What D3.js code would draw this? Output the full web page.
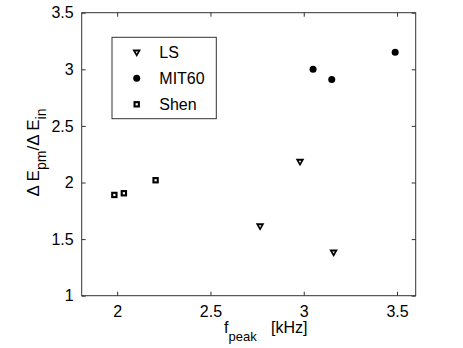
<!DOCTYPE html>
<html><head><meta charset="utf-8">
<script src="https://cdn.jsdelivr.net/npm/d3@7"></script>
<style>body{margin:0;background:#fff}svg{display:block}text{font-family:"Liberation Sans",Arial,sans-serif;fill:#000}</style>
</head><body><svg id="c" width="463" height="348"></svg>
<script>
const lsX = [2.766, 2.98, 3.16];
const lsY = [1.61, 2.18, 1.38];
const mitX = [3.05, 3.15, 3.49];
const mitY = [3.0, 2.91, 3.15];
const shenX = [1.985, 2.036, 2.206];
const shenY = [1.89, 1.905, 2.02];
const xTicks = [2, 2.5, 3, 3.5];
const yTicks = [1, 1.5, 2, 2.5, 3, 3.5];
const legendLabels = ["LS", "MIT60", "Shen"];

const svg = d3.select("#c");
const L = 81.7, R = 415.7, T = 12.7, B = 295.7;
const x = d3.scaleLinear().domain([1.81, 3.6]).range([L, R]);
const y = d3.scaleLinear().domain([1, 3.5]).range([B, T]);
const axCol = "#333";

svg.append("rect").attr("x", L).attr("y", T).attr("width", R - L).attr("height", B - T)
  .attr("fill", "none").attr("stroke", axCol).attr("stroke-width", 1);

const fmt = d => String(d);
const gxb = svg.append("g").attr("transform", `translate(0,${B})`)
  .call(d3.axisBottom(x).tickValues(xTicks).tickSize(-4).tickPadding(10).tickFormat(fmt));
const gxt = svg.append("g").attr("transform", `translate(0,${T})`)
  .call(d3.axisTop(x).tickValues(xTicks).tickSize(-4).tickFormat(""));
const gyl = svg.append("g").attr("transform", `translate(${L},0)`)
  .call(d3.axisLeft(y).tickValues(yTicks).tickSize(-4).tickPadding(8).tickFormat(fmt));
const gyr = svg.append("g").attr("transform", `translate(${R},0)`)
  .call(d3.axisRight(y).tickValues(yTicks).tickSize(-4).tickFormat(""));
[gxb, gxt, gyl, gyr].forEach(g => {
  g.select(".domain").remove();
  g.selectAll("line").attr("stroke", axCol);
  g.selectAll("text").style("font-family", '"Liberation Sans",Arial,sans-serif').attr("font-size", 16).attr("fill", "#000");
});

// markers
function drawTri(g, cx, cy) {
  const gg = g.append("g").attr("transform", `translate(${cx},${cy})`);
  gg.append("path").attr("d", "M-4.3,-3.3 L4.3,-3.3 L0,4.2 Z").attr("fill", "#000");
  gg.append("path").attr("d", "M-1.2,-1.3 L1.2,-1.3 L0,0.9 Z").attr("fill", "#fff");
}
function drawCirc(g, cx, cy) {
  g.append("circle").attr("cx", cx).attr("cy", cy).attr("r", 3.5).attr("fill", "#000");
}
function drawSq(g, cx, cy) {
  g.append("rect").attr("x", cx - 3.2).attr("y", cy - 3.2).attr("width", 6.4).attr("height", 6.4).attr("fill", "#000");
  g.append("rect").attr("x", cx - 1.1).attr("y", cy - 1.1).attr("width", 2.2).attr("height", 2.2).attr("fill", "#fff");
}
const gm = svg.append("g");
lsX.forEach((v, i) => drawTri(gm, x(v), y(lsY[i])));
mitX.forEach((v, i) => drawCirc(gm, x(v), y(mitY[i])));
shenX.forEach((v, i) => drawSq(gm, x(v), y(shenY[i])));

// legend
const lg = svg.append("g");
lg.append("rect").attr("x", 112).attr("y", 37.3).attr("width", 104.3).attr("height", 81.4)
  .attr("fill", "#fff").attr("stroke", axCol).attr("stroke-width", 1);
const rowsY = [52.7, 78.3, 104.3];
const drawers = [drawTri, drawCirc, drawSq];
legendLabels.forEach((t, i) => {
  drawers[i](lg, 136.7, rowsY[i]);
  lg.append("text").attr("x", 159.3).attr("y", rowsY[i]).attr("dy", "0.36em").attr("font-size", 16).text(t);
});

// axis labels
const xl = svg.append("text").attr("x", 224).attr("y", 333).attr("font-size", 16);
xl.append("tspan").text("f");
xl.append("tspan").attr("dy", 8).attr("font-size", 13).text("peak");
xl.append("tspan").attr("dy", -8).attr("x", 271).text("[kHz]");

const yl = svg.append("text").attr("transform", `translate(39,152.5) rotate(-90)`)
  .attr("text-anchor", "middle").attr("font-size", 17);
yl.append("tspan").text("Δ E");
yl.append("tspan").attr("dy", 7).attr("font-size", 14).text("pm");
yl.append("tspan").attr("dy", -7).text("/Δ E");
yl.append("tspan").attr("dy", 7).attr("font-size", 14).text("in");
</script></body></html>
